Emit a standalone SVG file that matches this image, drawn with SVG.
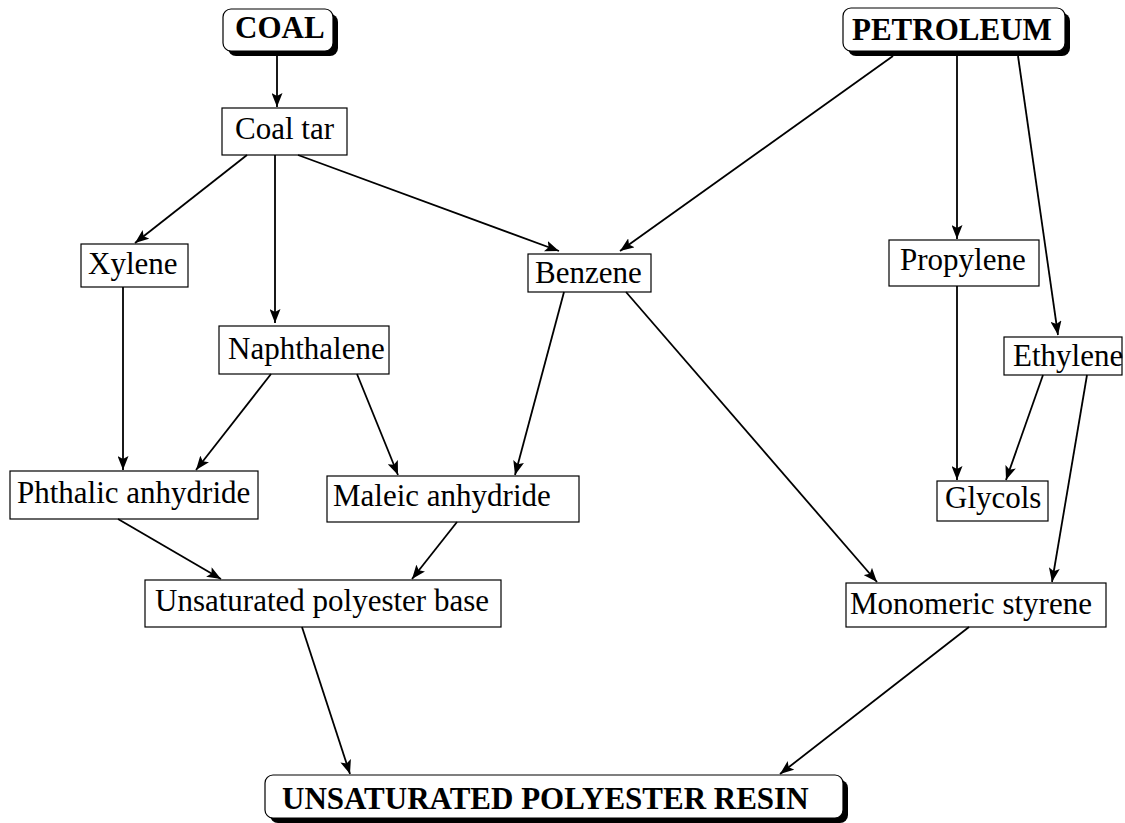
<svg xmlns="http://www.w3.org/2000/svg" width="1125" height="823" viewBox="0 0 1125 823">
<style>
text{font-family:"Liberation Serif","Times New Roman",serif;font-size:31px;fill:#000}
.b{font-weight:bold}
.box{fill:#fff;stroke:#000;stroke-width:1.2}
.sh{fill:#000}
.c line{stroke:#000;stroke-width:1.8}
</style>
<defs>
<marker id="ah" markerUnits="userSpaceOnUse" markerWidth="15" markerHeight="11" refX="14" refY="5.5" orient="auto">
<path d="M0,0 L14,5.5 L0,11 L3,5.5 Z" fill="#000"/>
</marker>
</defs>
<rect width="1125" height="823" fill="#fff"/>
<g id="coal"><rect class="sh" x="228" y="14" width="110" height="42" rx="8"/><rect class="box" x="223" y="9" width="110" height="42" rx="8"/><text class="b" x="235" y="38">COAL</text></g>
<g id="petroleum"><rect class="sh" x="848" y="13" width="222" height="43" rx="8"/><rect class="box" x="843" y="8" width="222" height="43" rx="8"/><text class="b" x="852" y="40">PETROLEUM</text></g>
<g id="resin"><rect class="sh" x="270" y="780" width="578" height="43" rx="8"/><rect class="box" x="265" y="775" width="578" height="43" rx="8"/><text class="b" x="282" y="809">UNSATURATED POLYESTER RESIN</text></g>
<g id="coaltar"><rect class="box" x="222" y="108" width="125" height="47"/><text x="235" y="139">Coal tar</text></g>
<g id="xylene"><rect class="box" x="81" y="244" width="107" height="43"/><text x="88" y="274">Xylene</text></g>
<g id="naphthalene"><rect class="box" x="219" y="326" width="170" height="48"/><text x="228" y="359">Naphthalene</text></g>
<g id="benzene"><rect class="box" x="528" y="254" width="123" height="38"/><text x="535" y="283">Benzene</text></g>
<g id="propylene"><rect class="box" x="889" y="240" width="150" height="46"/><text x="900" y="270">Propylene</text></g>
<g id="ethylene"><rect class="box" x="1004" y="337" width="118" height="38"/><text x="1013" y="366">Ethylene</text></g>
<g id="phthalic"><rect class="box" x="10" y="471" width="248" height="48"/><text x="17" y="503">Phthalic anhydride</text></g>
<g id="maleic"><rect class="box" x="327" y="476" width="252" height="46"/><text x="333" y="506">Maleic anhydride</text></g>
<g id="glycols"><rect class="box" x="937" y="481" width="111" height="40"/><text x="945" y="508">Glycols</text></g>
<g id="base"><rect class="box" x="145" y="580" width="356" height="47"/><text x="155" y="611">Unsaturated polyester base</text></g>
<g id="styrene"><rect class="box" x="846" y="583" width="260" height="44"/><text x="850" y="614">Monomeric styrene</text></g>
<g class="c" id="connectors">
<line x1="277" y1="56" x2="277" y2="107" marker-end="url(#ah)"/>
<line x1="247" y1="155" x2="135" y2="243" marker-end="url(#ah)"/>
<line x1="275" y1="155" x2="275" y2="323" marker-end="url(#ah)"/>
<line x1="298" y1="155" x2="559" y2="251" marker-end="url(#ah)"/>
<line x1="893" y1="56" x2="620" y2="251" marker-end="url(#ah)"/>
<line x1="957" y1="56" x2="957" y2="239" marker-end="url(#ah)"/>
<line x1="1018" y1="56" x2="1058" y2="335" marker-end="url(#ah)"/>
<line x1="123" y1="287" x2="123" y2="470" marker-end="url(#ah)"/>
<line x1="271" y1="374" x2="196" y2="470" marker-end="url(#ah)"/>
<line x1="357" y1="374" x2="398" y2="475" marker-end="url(#ah)"/>
<line x1="564" y1="292" x2="515" y2="475" marker-end="url(#ah)"/>
<line x1="626" y1="292" x2="877" y2="582" marker-end="url(#ah)"/>
<line x1="957" y1="286" x2="957" y2="480" marker-end="url(#ah)"/>
<line x1="1043" y1="375" x2="1006" y2="480" marker-end="url(#ah)"/>
<line x1="1087" y1="375" x2="1052" y2="582" marker-end="url(#ah)"/>
<line x1="118" y1="519" x2="221" y2="579" marker-end="url(#ah)"/>
<line x1="457" y1="522" x2="412" y2="579" marker-end="url(#ah)"/>
<line x1="302" y1="627" x2="350" y2="774" marker-end="url(#ah)"/>
<line x1="969" y1="627" x2="780" y2="774" marker-end="url(#ah)"/>
</g>
</svg>
